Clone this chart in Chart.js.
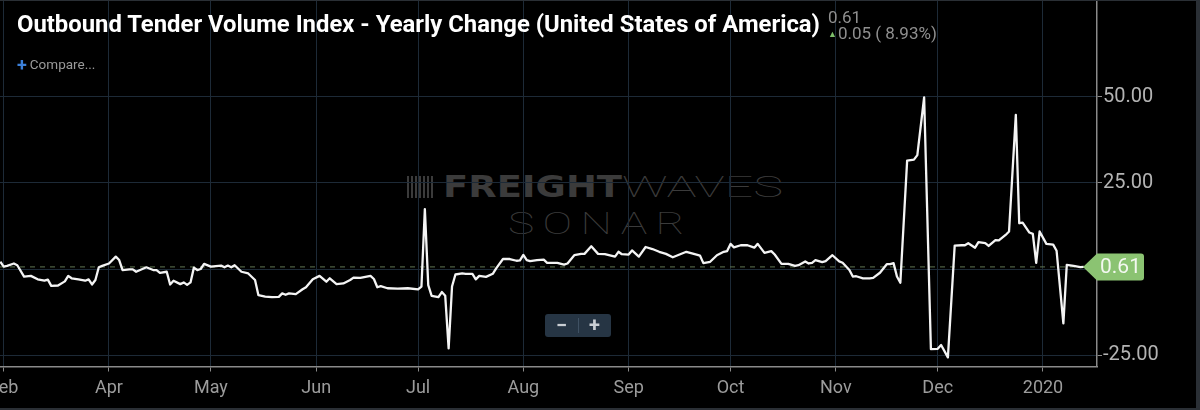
<!DOCTYPE html>
<html>
<head>
<meta charset="utf-8">
<title>Outbound Tender Volume Index - Yearly Change</title>
<script src="https://cdn.jsdelivr.net/npm/chart.js@4.4.1/dist/chart.umd.min.js"></script>
<style>
  html, body { margin: 0; padding: 0; background: #2a2f35; }
  body { width: 1200px; height: 410px; overflow: hidden; font-family: Roboto, "Noto Sans", sans-serif; }
  #frame { position: absolute; left: 0; top: 1px; width: 1196px; height: 407px; background: #000; overflow: hidden; }
  #chartBox { position: absolute; left: 0; top: 0; width: 1196px; height: 407px; z-index: 1; }
  .wm { position: absolute; color: #3b3b3b; white-space: nowrap; line-height: 1; transform-origin: 0 0; z-index: 0; }
  #wmIcon { position: absolute; left: 407px; top: 175px; width: 26px; height: 22px; z-index: 0;
    background: repeating-linear-gradient(90deg, #3b3b3b 0 2px, transparent 2px 4px); }
  #wmFreight { left: 443px; top: 171px; font-family: "DejaVu Sans", sans-serif; font-weight: bold; font-size: 30px; }
  #wmWaves { left: 622px; top: 171px; font-size: 30px; font-weight: 100; }
  #wmSonar { left: 508px; top: 206px; font-size: 32px; font-weight: 100; letter-spacing: 6px; }
  .ov { position: absolute; z-index: 2; white-space: nowrap; line-height: 1; }
  #title { left: 17px; top: 10.5px; color: #fff; font-weight: bold; font-size: 24px; transform-origin: 0 0; }
  #compare { left: 17px; top: 55px; font-size: 13.5px; color: #9a9a9a; }
  #compare b { color: #3b7fd8; font-size: 18px; font-weight: bold; margin-right: 3px; vertical-align: -2px; }
  #last { left: 828px; top: 7.5px; font-size: 17px; color: #8f8f8f; }
  #change { left: 828px; top: 24px; font-size: 17px; color: #8f8f8f; }
  #change b { color: #7dbf6a; font-size: 9px; margin-right: 1px; vertical-align: 2px; }
  #zoomCtl { position: absolute; z-index: 2; left: 545px; top: 313px; width: 66px; height: 23px;
    background: #263544; border-radius: 3px; color: #c9ced3; font-weight: bold; font-size: 20px; line-height: 23px; }
  #zoomCtl span { position: absolute; top: 0; width: 33px; text-align: center; }
  #zoomCtl i { position: absolute; left: 33px; top: 4px; width: 1px; height: 15px; background: #3f5163; }
</style>
</head>
<body>
<div id="frame">
  <div id="wmIcon"></div>
  <div class="wm" id="wmFreight">FREIGHT</div>
  <div class="wm" id="wmWaves">WAVES</div>
  <div class="wm" id="wmSonar">SONAR</div>
  <div id="chartBox"><canvas id="chart"></canvas></div>
  <div class="ov" id="title">Outbound Tender Volume Index - Yearly Change (United States of America)</div>
  <div class="ov" id="compare"><b>+</b>Compare...</div>
  <div class="ov" id="last"></div>
  <div class="ov" id="change"></div>
  <div id="zoomCtl"><span style="left:0">−</span><i></i><span style="left:33px">+</span></div>
</div>
<script>
// days counted from Mar 1 2019
const days = [
  -1, 0, 1, 3, 4, 6, 8, 10, 12, 13,
  14, 16, 18, 19, 20, 22, 24, 25, 26, 27,
  28, 29, 31, 33, 34, 35, 37, 38, 39, 42,
  44, 45, 46, 48, 49, 50, 52, 53, 54, 55,
  56, 57, 58, 59, 61, 64, 65, 66, 67, 68,
  70, 72, 74, 75, 77, 79, 81, 82, 83, 84,
  86, 88, 89, 91, 93, 95, 96, 98, 100, 102,
  103, 105, 108, 109, 110, 111, 113, 116, 119, 122,
  123, 124, 125, 126, 128, 129, 130, 131, 132, 133,
  135, 136, 138, 139, 140, 142, 144, 145, 147, 149,
  151, 152, 153, 154, 155, 157, 159, 160, 163, 165,
  166, 168, 170, 171, 173, 175, 177, 180, 181, 182,
  184, 185, 187, 189, 191, 193, 195, 197, 199, 201,
  204, 205, 206, 208, 210, 212, 213, 214, 215, 217,
  219, 221, 222, 224, 226, 227, 229, 231, 233, 234,
  236, 237, 238, 239, 241, 242, 244, 246, 247, 249,
  250, 251, 253, 255, 256, 258, 260, 261, 262, 263,
  264, 266, 268, 269, 271, 273, 275, 276, 278, 280,
  282, 283, 284, 286, 287, 289, 290, 292, 293, 295,
  296, 298, 299, 300, 302, 303, 304, 305, 307, 309,
  310, 312, 313, 315, 317, 318
];
const values = [
  2.1, 0.7, 0.9, 1.6, 1.1, -2.2, -2.0, -3.0, -3.4, -3.1,
  -4.9, -4.8, -3.6, -2.0, -2.7, -3.0, -3.4, -3.0, -4.5, -3.2,
  0.5, 0.9, 1.6, 3.6, 2.6, -0.3, -0.1, -0.1, -0.8, 0.5,
  -0.3, -0.3, -1.1, -0.8, -4.5, -3.4, -4.4, -3.9, -4.6, -3.9,
  0.4, -0.3, 0.0, 1.5, 0.7, 1.0, 0.5, 1.0, 0.5, 1.1,
  -0.8, -1.3, -3.2, -7.6, -8.0, -8.2, -8.1, -7.1, -7.5, -7.1,
  -7.3, -5.9, -5.3, -3.0, -2.0, -3.7, -2.7, -4.4, -4.2, -3.2,
  -2.5, -2.6, -2.0, -2.9, -5.3, -5.0, -5.6, -5.7, -5.6, -5.9,
  -5.1, 17.4, -4.7, -7.8, -8.2, -6.7, -7.8, -23.1, -5.1, -1.6,
  -1.3, -1.4, -1.4, -3.0, -2.0, -2.3, -1.4, 0.2, 2.9, 2.9,
  2.4, 2.5, 4.1, 2.6, 2.3, 2.6, 2.7, 1.8, 1.8, 1.3,
  1.6, 4.0, 4.4, 4.4, 6.6, 4.4, 4.3, 3.6, 5.0, 4.3,
  4.2, 5.4, 3.6, 6.4, 5.8, 5.0, 4.4, 3.4, 4.2, 5.0,
  4.2, 3.9, 1.7, 2.1, 4.0, 5.0, 5.2, 7.3, 6.3, 6.9,
  6.9, 6.2, 7.3, 4.7, 5.2, 4.2, 1.5, 1.5, 0.9, 1.1,
  2.2, 1.6, 1.8, 2.6, 2.0, 2.3, 4.0, 2.2, 1.8, -0.3,
  -2.2, -2.1, -2.7, -2.7, -2.6, -1.1, 1.4, 1.4, 1.7, -2.2,
  -4.0, 31.5, 31.8, 33.1, 49.9, -23.3, -23.2, -22.1, -25.7, 6.8,
  6.9, 6.9, 7.5, 6.2, 7.8, 7.5, 6.7, 8.4, 8.3, 9.9,
  10.9, 44.8, 13.3, 13.5, 10.6, 10.2, 1.8, 10.9, 7.3, 7.1,
  5.3, -15.8, 1.2, 0.9, 0.56, 0.61
];
const monthDays = [0, 31, 61, 92, 122, 153, 184, 214, 245, 275, 306];
const monthLabels = ['Feb', 'Apr', 'May', 'Jun', 'Jul', 'Aug', 'Sep', 'Oct', 'Nov', 'Dec', '2020'];
const yTicks = [-25, 0, 25, 50];

const last = values[values.length - 1];
const prev = values[values.length - 2];
document.getElementById('last').textContent = last.toFixed(2);
document.getElementById('change').innerHTML = '<b>&#9650;</b>' + (last - prev).toFixed(2) +
  ' ( ' + ((last - prev) / prev * 100).toFixed(2) + '%)';

function fitWidth(id, target) {
  const el = document.getElementById(id);
  el.style.transform = 'none';
  const w = el.getBoundingClientRect().width;
  el.style.transform = 'scaleX(' + (target / w) + ')';
}
function fitAll() {
  fitWidth('title', 803);
  fitWidth('wmFreight', 179);
  fitWidth('wmWaves', 161);
  fitWidth('wmSonar', 185);
}
fitAll();
document.fonts.ready.then(fitAll);

const gridCol = '#1d2a37';
const axisCol = '#8a8a8a';

// dashed line at the last value and the green value tag
const lastValue = {
  id: 'lastValue',
  beforeDatasetsDraw(chart) {
    const { ctx, chartArea } = chart;
    const y = chart.scales.y.getPixelForValue(last);
    ctx.save();
    ctx.strokeStyle = 'rgba(100,124,86,0.95)';
    ctx.lineWidth = 1;
    ctx.setLineDash([5, 5]);
    ctx.beginPath();
    ctx.moveTo(chartArea.left, y);
    ctx.lineTo(chartArea.right, y);
    ctx.stroke();
    ctx.restore();
  },
  afterDraw(chart) {
    const { ctx, chartArea } = chart;
    const y = chart.scales.y.getPixelForValue(last);
    const r = chartArea.right, h = 27, w = 47, tip = 14;
    ctx.save();
    ctx.fillStyle = '#8bc372';
    ctx.beginPath();
    ctx.moveTo(r - tip, y);
    ctx.lineTo(r, y - h / 2);
    ctx.lineTo(r + w - 3, y - h / 2);
    ctx.quadraticCurveTo(r + w, y - h / 2, r + w, y - h / 2 + 3);
    ctx.lineTo(r + w, y + h / 2 - 3);
    ctx.quadraticCurveTo(r + w, y + h / 2, r + w - 3, y + h / 2);
    ctx.lineTo(r, y + h / 2);
    ctx.closePath();
    ctx.fill();
    ctx.fillStyle = '#f3f8f0';
    ctx.font = '21px Roboto';
    ctx.textAlign = 'left';
    ctx.textBaseline = 'middle';
    ctx.fillText(last.toFixed(2), r + 3, y + 1);
    ctx.restore();
  }
};

Chart.defaults.font.family = 'Roboto';

new Chart(document.getElementById('chart'), {
  type: 'line',
  data: {
    datasets: [{
      data: days.map((d, i) => ({ x: d, y: values[i] })),
      borderColor: '#f4f4f4',
      borderWidth: 2.3,
      borderJoinStyle: 'round',
      pointRadius: 0,
      tension: 0,
      fill: false
    }]
  },
  options: {
    responsive: true,
    maintainAspectRatio: false,
    animation: false,
    layout: { padding: 0 },
    plugins: { legend: { display: false }, tooltip: { enabled: false } },
    scales: {
      x: {
        type: 'linear',
        min: -1.09,
        max: 321.9,
        afterBuildTicks: (s) => { s.ticks = monthDays.map(v => ({ value: v })); },
        afterFit: (s) => { s.height = 41.5; s.paddingLeft = 0; s.paddingRight = 0; },
        grid: { color: gridCol, lineWidth: 1, tickLength: 5, tickColor: axisCol },
        border: { display: true, color: axisCol, width: 1.5 },
        ticks: {
          autoSkip: false,
          maxRotation: 0,
          padding: 6,
          color: '#9c9c9c',
          font: { size: 18 },
          callback: (v, i) => monthLabels[i]
        }
      },
      y: {
        position: 'right',
        min: -28.34,
        max: 77.9,
        afterBuildTicks: (s) => { s.ticks = yTicks.map(v => ({ value: v })); },
        afterFit: (s) => { s.width = 99; s.paddingTop = 0; s.paddingBottom = 0; },
        grid: { color: gridCol, lineWidth: 1, tickLength: 5, tickColor: axisCol },
        border: { display: true, color: axisCol, width: 1.5 },
        ticks: {
          padding: 1,
          color: '#b3b3b3',
          font: { size: 20 },
          callback: (v) => v === 0 ? '' : v.toFixed(2)
        }
      }
    }
  },
  plugins: [lastValue]
});
</script>
</body>
</html>
